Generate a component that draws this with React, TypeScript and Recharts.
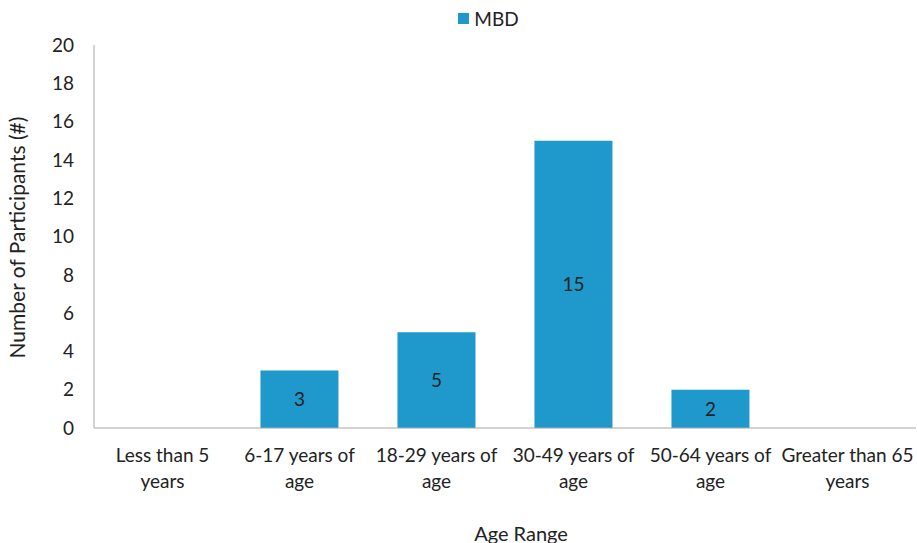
import React from "react";
import { BarChart, Bar, XAxis, YAxis, Legend, LabelList } from "recharts";

const ageRanges = [
  "Less than 5 years",
  "6-17 years of age",
  "18-29 years of age",
  "30-49 years of age",
  "50-64 years of age",
  "Greater than 65 years",
];
const tickLines = [
  ["Less than 5", "years"],
  ["6-17 years of", "age"],
  ["18-29 years of", "age"],
  ["30-49 years of", "age"],
  ["50-64 years of", "age"],
  ["Greater than 65", "years"],
];
const mbdCounts = [0, 3, 5, 15, 2, 0];
const yTicks = [0, 2, 4, 6, 8, 10, 12, 14, 16, 18, 20];

const data = ageRanges.map((range, i) => ({ range, MBD: mbdCounts[i] }));

const FONT = "Lato, 'Open Sans', sans-serif";
const BLUE = "#1F98CB";

function AgeTick(props: any) {
  const { x, y, payload } = props;
  const idx = ageRanges.indexOf(payload.value);
  const lines = idx >= 0 ? tickLines[idx] : [payload.value];
  return (
    <g transform={`translate(${x},${y})`}>
      {lines.map((l, i) => (
        <text
          key={i}
          x={0}
          y={26 + i * 26}
          textAnchor="middle"
          fontSize={19}
          fontFamily={FONT}
          fill="#222"
        >
          {l}
        </text>
      ))}
    </g>
  );
}

function LegendContent() {
  return (
    <div
      style={{
        display: "flex",
        justifyContent: "center",
        alignItems: "center",
        fontFamily: FONT,
        fontSize: 19,
        color: "#222",
        paddingLeft: 60,
      }}
    >
      <span
        style={{
          display: "inline-block",
          width: 11,
          height: 11,
          background: BLUE,
          marginRight: 5,
        }}
      />
      MBD
    </div>
  );
}

export default function App() {
  return (
    <div style={{ position: "absolute", left: 0, top: 0, background: "#fff" }}>
      <BarChart
        width={917}
        height={543}
        data={data}
        margin={{ top: 22, right: 1, left: 0, bottom: 0 }}
        barCategoryGap="21.5%"
      >
        <Legend
          verticalAlign="top"
          content={<LegendContent />}
          wrapperStyle={{ top: 7, left: 0, width: 917 }}
        />
        <XAxis
          dataKey="range"
          height={115}
          tickLine={false}
          stroke="#a6a6a6"
          tick={<AgeTick />}
          interval={0}
          label={{
            value: "Age Range",
            position: "insideBottom",
            offset: 0,
            dx: 16,
            dy: -2,
            fontSize: 20,
            fontFamily: FONT,
            fill: "#222",
          }}
        />
        <YAxis
          width={94}
          domain={[0, 20]}
          ticks={yTicks}
          tickLine={false}
          stroke="#a6a6a6"
          tickSize={0}
          tickMargin={20}
          tick={{ fontSize: 19, fontFamily: FONT, fill: "#222" }}
          label={{
            value: "Number of Participants (#)",
            angle: -90,
            position: "insideLeft",
            dx: 13,
            dy: 122,
            fontSize: 21,
            fontFamily: FONT,
            fill: "#222",
          }}
        />
        <Bar dataKey="MBD" fill={BLUE} isAnimationActive={false}>
          <LabelList
            dataKey="MBD"
            position="center"
            formatter={(v: any) => (v ? v : "")}
            fontSize={19}
            fontFamily={FONT}
            fill="#222"
          />
        </Bar>
      </BarChart>
    </div>
  );
}
